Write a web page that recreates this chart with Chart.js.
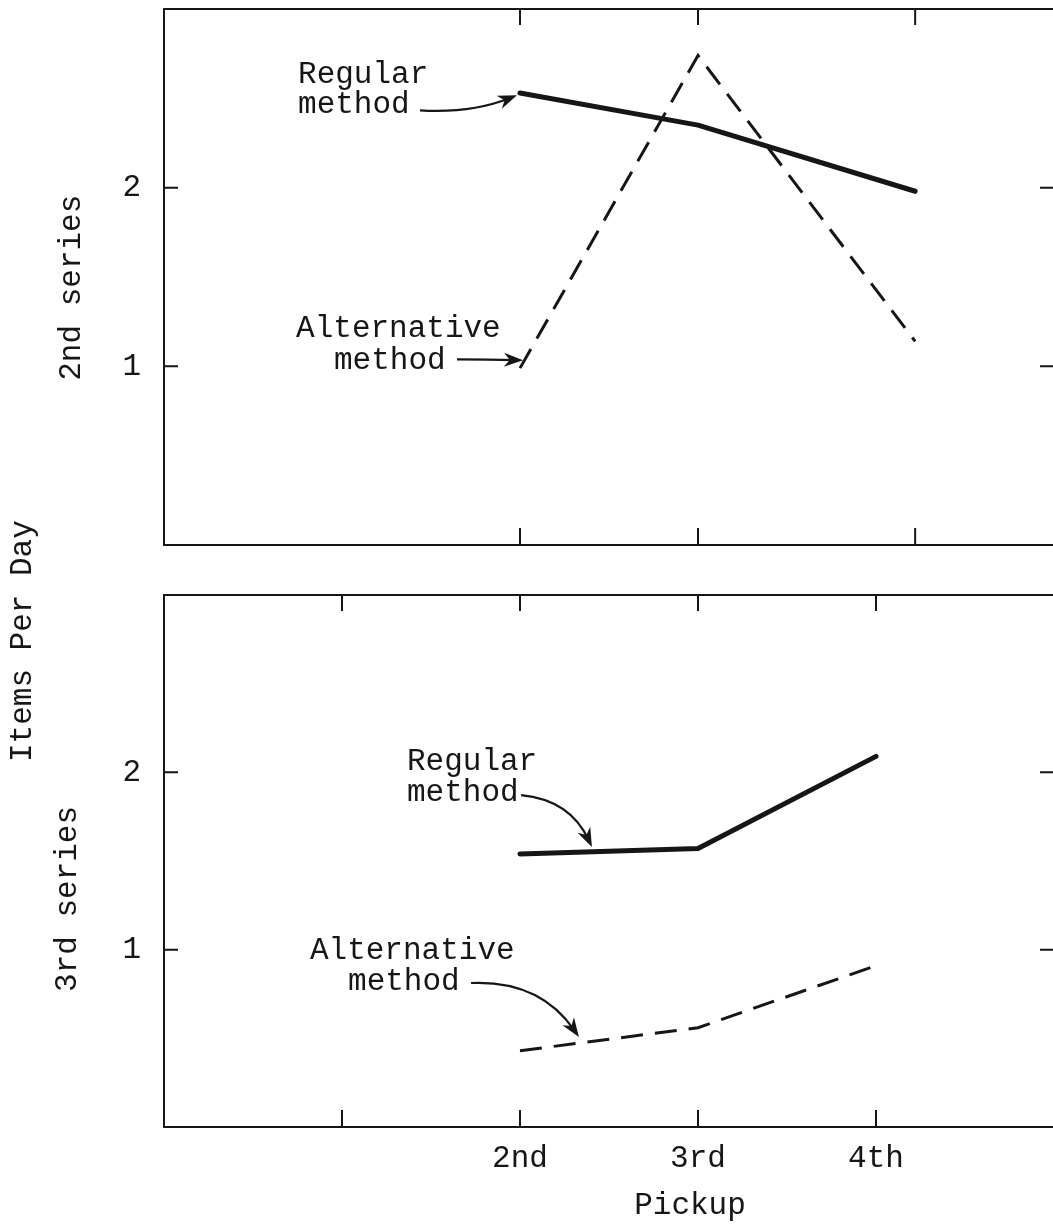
<!DOCTYPE html>
<html>
<head>
<meta charset="utf-8">
<title>Items Per Day by Pickup</title>
<script src="https://cdn.jsdelivr.net/npm/chart.js@4.4.1/dist/chart.umd.min.js"></script>
<style>
  html, body { margin: 0; padding: 0; background: #fff; overflow: hidden; }
  .panel { position: absolute; left: 0; top: 0; width: 1060px; height: 1224px; }
</style>
</head>
<body>
<div class="panel"><canvas id="topChart"></canvas></div>
<div class="panel"><canvas id="bottomChart"></canvas></div>
<script>
// Pickup positions on the x axis (2nd, 3rd, 4th)
const pickupLabels = ["2nd", "3rd", "4th"];
const pickupTop = [2, 3, 4.22]; // top panel draws its 4th pickup a bit to the right
const pickupBottom = [2, 3, 4];

// Items per day, 2nd series
const regular2nd = [2.53, 2.35, 1.98];
const alternative2nd = [0.99, 2.74, 1.14];

// Items per day, 3rd series
const regular3rd = [1.54, 1.57, 2.09];
const alternative3rd = [0.43, 0.56, 0.91];

// Tick values and labels
const yTicks = [1, 2];
const xTicksTop = [2, 3, 4.22];
const xTicksBottom = [1, 2, 3, 4];
const xTickLabels = ["", "2nd", "3rd", "4th"];

const FONT = '"Liberation Mono", "Courier New", monospace';
const INK = "#161616";

// Callout texts and arrows, given in axis units (text = [string, x, baseline y])
const notesTop = [
  { lines: [["Regular", 0.753, 2.584], ["method", 0.753, 2.416]],
    arrow: [[1.438, 2.433], [1.725, 2.416], [1.983, 2.517]] },
  { lines: [["Alternative", 0.742, 1.163], ["method", 0.955, 0.983]],
    arrow: [[1.646, 1.039], [1.83, 1.039], [2.017, 1.034]] },
];
const notesBottom = [
  { lines: [["Regular", 1.365, 2.013], ["method", 1.365, 1.838]],
    arrow: [[2.006, 1.872], [2.281, 1.845], [2.404, 1.579]] },
  { lines: [["Alternative", 0.82, 0.947], ["method", 1.034, 0.773]],
    arrow: [[1.725, 0.812], [2.112, 0.829], [2.331, 0.508]] },
];

const drawArrow = (ctx, [p0, c, p1]) => {
  const ang = Math.atan2(p1[1] - c[1], p1[0] - c[0]);
  const cos = Math.cos(ang), sin = Math.sin(ang);
  ctx.lineWidth = 2.2;
  ctx.beginPath();
  ctx.moveTo(p0[0], p0[1]);
  ctx.quadraticCurveTo(c[0], c[1], p1[0] - 8 * cos, p1[1] - 8 * sin);
  ctx.stroke();
  // arrow head
  const len = 19, half = 7;
  ctx.beginPath();
  ctx.moveTo(p1[0], p1[1]);
  ctx.lineTo(p1[0] - len * cos + half * sin, p1[1] - len * sin - half * cos);
  ctx.lineTo(p1[0] - len * 0.7 * cos, p1[1] - len * 0.7 * sin);
  ctx.lineTo(p1[0] - len * cos - half * sin, p1[1] - len * sin + half * cos);
  ctx.closePath();
  ctx.fill();
};

// Frame, inward ticks, callouts and side titles
const makeDecor = (cfg) => ({
  id: "decor_" + cfg.name,
  afterDraw(chart) {
    const { ctx, chartArea: a } = chart;
    const x = chart.scales.x, y = chart.scales.y;
    ctx.save();
    ctx.strokeStyle = INK;
    ctx.fillStyle = INK;
    ctx.lineWidth = 2;
    ctx.strokeRect(a.left, a.top, a.right - a.left, a.bottom - a.top);

    ctx.beginPath();
    cfg.xTicks.forEach((v) => {
      const px = x.getPixelForValue(v);
      ctx.moveTo(px, a.top); ctx.lineTo(px, a.top + 16);
      ctx.moveTo(px, a.bottom); ctx.lineTo(px, a.bottom - 17);
    });
    yTicks.forEach((v) => {
      const py = y.getPixelForValue(v);
      ctx.moveTo(a.left, py); ctx.lineTo(a.left + 14, py);
      ctx.moveTo(a.right, py); ctx.lineTo(a.right - 14, py);
    });
    ctx.stroke();

    ctx.font = "31px " + FONT;
    ctx.textAlign = "left";
    ctx.textBaseline = "alphabetic";
    cfg.notes.forEach((n) => {
      n.lines.forEach(([t, vx, vy]) => ctx.fillText(t, x.getPixelForValue(vx), y.getPixelForValue(vy)));
      drawArrow(ctx, n.arrow.map(([vx, vy]) => [x.getPixelForValue(vx), y.getPixelForValue(vy)]));
    });

    ctx.textAlign = "center";
    ctx.textBaseline = "middle";
    cfg.titles.forEach((t) => {
      const px = t.px, py = y.getPixelForValue(t.y);
      ctx.save();
      ctx.translate(px, py);
      if (t.rotate) ctx.rotate(-Math.PI / 2);
      ctx.fillText(t.text, 0, 0);
      ctx.restore();
    });
    ctx.restore();
  },
});

const lineSet = (xs, ys, solid) => ({
  data: xs.map((v, i) => ({ x: v, y: ys[i] })),
  borderColor: INK,
  borderWidth: solid ? 5 : 3,
  borderDash: solid ? [] : [22, 12],
  borderCapStyle: solid ? "round" : "butt",
  borderJoinStyle: solid ? "round" : "miter",
  pointRadius: 0,
  tension: 0,
  fill: false,
});

const buildChart = (canvasId, cfg) => new Chart(document.getElementById(canvasId), {
  type: "line",
  data: {
    datasets: [
      lineSet(cfg.pickups, cfg.regular, true),
      lineSet(cfg.pickups, cfg.alternative, false),
    ],
  },
  options: {
    responsive: true,
    maintainAspectRatio: false,
    animation: false,
    events: [],
    layout: { padding: cfg.padding },
    plugins: { legend: { display: false }, tooltip: { enabled: false } },
    scales: {
      x: {
        type: "linear",
        min: 0,
        max: 5,
        display: cfg.showXLabels,
        grid: { display: false, drawTicks: false },
        border: { display: false },
        afterBuildTicks: (s) => { s.ticks = cfg.xTicks.map((v) => ({ value: v })); },
        afterFit: (s) => {
          s.height = cfg.xAxisHeight;
          s.paddingLeft = 0;
          s.paddingRight = 0;
        },
        ticks: {
          autoSkip: false,
          maxRotation: 0,
          padding: 13,
          color: INK,
          font: { family: FONT, size: 31 },
          callback: (v, i) => cfg.xTickLabels[i],
        },
      },
      y: {
        min: 0,
        max: 3,
        grid: { display: false, drawTicks: false },
        border: { display: false },
        afterBuildTicks: (s) => { s.ticks = yTicks.map((v) => ({ value: v })); },
        afterFit: (s) => {
          s.width = 164;
          s.paddingTop = 0;
          s.paddingBottom = 0;
        },
        ticks: { padding: 23, color: INK, font: { family: FONT, size: 31 } },
      },
    },
  },
  plugins: [makeDecor(cfg)],
});

buildChart("topChart", {
  name: "top",
  pickups: pickupTop,
  regular: regular2nd,
  alternative: alternative2nd,
  xTicks: xTicksTop,
  xTickLabels: [],
  showXLabels: false,
  xAxisHeight: 0,
  padding: { left: 0, top: 9, right: 6, bottom: 679 },
  notes: notesTop,
  titles: [{ text: "2nd series", px: 72, y: 1.44, rotate: true }],
});

buildChart("bottomChart", {
  name: "bottom",
  pickups: pickupBottom,
  regular: regular3rd,
  alternative: alternative3rd,
  xTicks: xTicksBottom,
  xTickLabels: xTickLabels,
  showXLabels: true,
  xAxisHeight: 97,
  padding: { left: 0, top: 595, right: 6, bottom: 0 },
  notes: notesBottom,
  titles: [
    { text: "3rd series", px: 68, y: 1.286, rotate: true },
    { text: "Items Per Day", px: 23, y: 2.74, rotate: true },
    { text: "Pickup", px: 690, y: -0.445, rotate: false },
  ],
});
</script>
</body>
</html>
